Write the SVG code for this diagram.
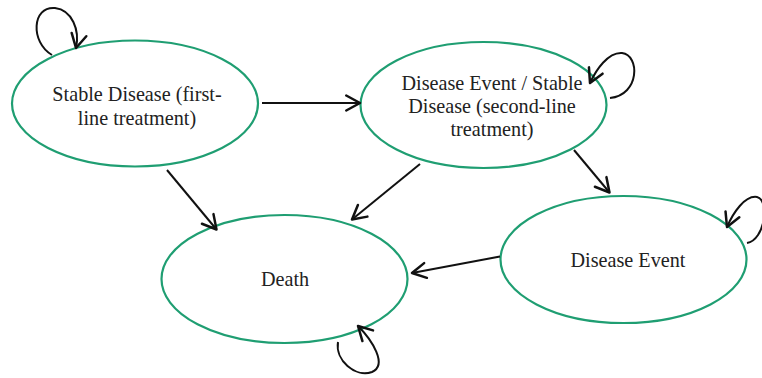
<svg xmlns="http://www.w3.org/2000/svg" width="762" height="378" viewBox="0 0 762 378">
<style>
.node{fill:#fff;stroke:#1f9e72;stroke-width:2.2}
.lbl{font-family:"Liberation Serif","Times New Roman",serif;font-size:20.2px;fill:#222;text-anchor:middle}
.edge{fill:none;stroke:#111;stroke-width:2;marker-end:url(#ah)}
</style>
<defs>
<marker id="ah" markerUnits="userSpaceOnUse" markerWidth="20" markerHeight="20" refX="0" refY="0" viewBox="-12 -8 14 16" orient="auto">
<path d="M-11,-6 L0,0 L-11,6" fill="none" stroke="#111" stroke-width="2" stroke-linecap="round" stroke-linejoin="round"/>
</marker>
</defs>
<rect width="762" height="378" fill="#fff"/>
<g id="n1">
<ellipse class="node" cx="135" cy="103.5" rx="123" ry="63"/>
<text class="lbl" x="137" y="101">Stable Disease (first-</text>
<text class="lbl" x="137" y="125">line treatment)</text>
</g>
<g id="n2">
<ellipse class="node" cx="483.5" cy="105" rx="123" ry="63"/>
<text class="lbl" x="492" y="90">Disease Event / Stable</text>
<text class="lbl" x="492" y="113">Disease (second-line</text>
<text class="lbl" x="492" y="136">treatment)</text>
</g>
<g id="n3">
<ellipse class="node" cx="623.5" cy="259.5" rx="123" ry="63.5"/>
<text class="lbl" x="628" y="267">Disease Event</text>
</g>
<g id="n4">
<ellipse class="node" cx="284.5" cy="279" rx="123" ry="64"/>
<text class="lbl" x="285" y="286">Death</text>
</g>
<g id="edges">
<path class="edge" d="M262,103 L360,103"/>
<path class="edge" d="M167,170 L216.5,229.5"/>
<path class="edge" d="M420,164 L352,219.5"/>
<path class="edge" d="M574,150 L609.5,192.5"/>
<path class="edge" d="M500,256.5 L412,273"/>
<path class="edge" d="M52,55 C30,42 32,6 55,8 C72,10 80,30 76,48"/>
<path class="edge" d="M610,98 C640,95 640,55 622,53 C608,52 596,70 590,83"/>
<path class="edge" d="M747,243 C765,240 770,200 757,197 C745,195 733,213 727,227"/>
<path class="edge" d="M338,342 C335,360 355,378 372,372 C388,365 372,340 358,326"/>
</g>
</svg>
